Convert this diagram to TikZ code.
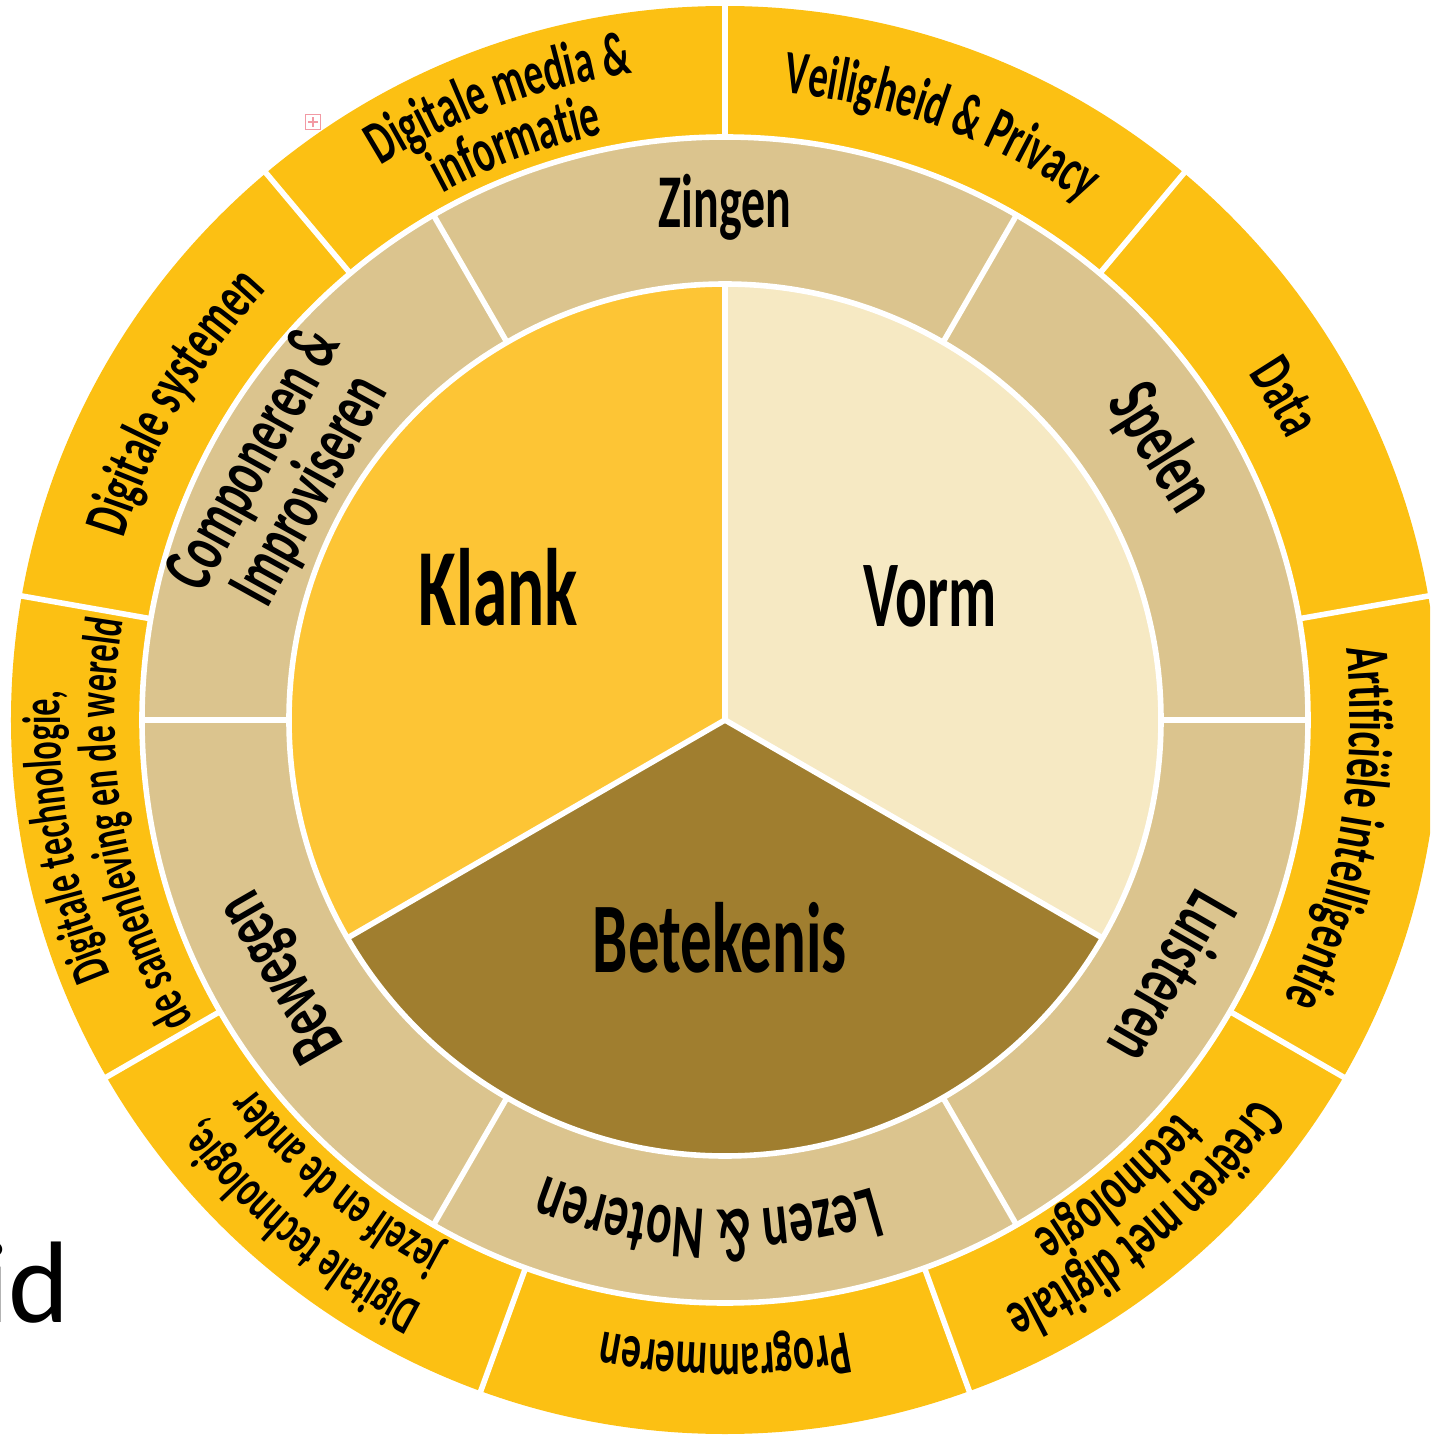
\documentclass[tikz,border=0pt]{standalone}
\usepackage{fontspec}
\newfontfamily\wf[FakeStretch=0.63]{Carlito}
\newfontfamily\idfont{Carlito}
\usetikzlibrary{decorations.text}
\definecolor{ringout}{HTML}{FCC013}
\definecolor{ringmid}{HTML}{DBC48E}
\definecolor{klankc}{HTML}{FDC535}
\definecolor{vormc}{HTML}{F6E9C3}
\definecolor{betekc}{HTML}{A07E2F}
\definecolor{iconpink}{HTML}{F29AA4}
\newcommand\olab{\wf\bfseries\fontsize{31}{31}\selectfont}
\newcommand\olabs{\wf\bfseries\fontsize{27}{27}\selectfont}
\newcommand\mlab{\wf\bfseries\fontsize{38}{33}\selectfont}
\newcommand\mlabs{\wf\bfseries\fontsize{36}{32}\selectfont}
\newcommand\arctext[3]{%
  \path[decorate,decoration={text along path,text={#3},text align=center}]
    (#1+26:#2) arc[start angle=#1+26,end angle=#1-26,radius=#2];}
\tikzset{
  sep/.style={draw=white,line width=2.8pt},
  midlabel/.style={anchor=base,inner sep=0pt,font=\mlab},
  mainlabel/.style={anchor=base,inner sep=0pt},
}
\begin{document}
\begin{tikzpicture}[x=0.5pt,y=0.5pt]
\useasboundingbox (-725,-720) rectangle (705,720);
\clip (-725,-720) rectangle (705,720);
% slide fragment
\node[anchor=base east,inner sep=0pt,font=\idfont\fontsize{58}{58}\selectfont] (idtext) at (-655,-602) {id};
% rings
\fill[ringout] (0,0) circle[radius=714];
\fill[ringmid] (0,0) circle[radius=583];
\fill[klankc] (0,0) -- (90:436) arc[start angle=90,end angle=210,radius=436] -- cycle;
\fill[vormc] (0,0) -- (-30:436) arc[start angle=-30,end angle=90,radius=436] -- cycle;
\fill[betekc] (0,0) -- (210:436) arc[start angle=210,end angle=330,radius=436] -- cycle;
% white separators
\draw[sep] (0,0) circle[radius=583];
\draw[sep] (0,0) circle[radius=436];
\foreach \a in {90,210,330} \draw[sep] (0,0) -- (\a:436);
\foreach \a in {0,60,...,300} \draw[sep] (\a:436) -- (\a:583);
\foreach \a in {90,50,...,-230} \draw[sep] (\a:583) -- (\a:716);
% marker icon
\draw[iconpink,line width=0.6pt] (-419.5,590.5) rectangle (-404.5,605.5);
\draw[iconpink,line width=0.6pt] (-412,593) -- (-412,603) (-417,598) -- (-407,598);
% outer ring labels
\arctext{110}{653}{|\olab|Digitale media {\&}}
\arctext{110}{598}{|\olab|informatie}
\arctext{70}{630}{|\olab|Veiligheid {\&} Privacy}
\arctext{30}{628}{|\olab|Data}
\arctext{-10}{625}{|\olab|Artificiële intelligentie}
\arctext{-50}{651}{|\olab|Creëren met digitale}
\arctext{-50}{598}{|\olab|technologie}
\arctext{-90}{624}{|\olab|Programmeren}
\arctext{-130}{658}{|\olabs|Digitale technologie,}
\arctext{-130}{598}{|\olabs|jezelf en de ander}
\arctext{190}{665}{|\olabs|Digitale technologie,}
\arctext{190}{610}{|\olabs|de samenleving en de wereld}
\arctext{150}{628}{|\olab|Digitale systemen}
% middle ring labels
\node[midlabel] (zingen) at (90:492) {Zingen};
\node[midlabel,rotate=-58] (spelen) at (32:492) {Spelen};
\node[midlabel,rotate=-120] (luisteren) at (-30:492) {Luisteren};
\node[midlabel,rotate=120] (bewegen) at (210:492) {Bewegen};
\arctext{-92}{490}{|\mlab|Lezen {\&} Noteren}
\node[inner sep=0pt,font=\mlabs,align=center,rotate=61] (componeren) at (151:505) {Componeren \&\\Improviseren};
% centre labels
\node[mainlabel,font=\wf\bfseries\fontsize{55}{55}\selectfont] (klank) at (-227,94) {Klank};
\node[mainlabel,font=\wf\bfseries\fontsize{47}{47}\selectfont] (vorm) at (205,93) {Vorm};
\node[mainlabel,font=\wf\bfseries\fontsize{50}{50}\selectfont] (betekenis) at (-5,-252) {Betekenis};
\end{tikzpicture}
\end{document}
